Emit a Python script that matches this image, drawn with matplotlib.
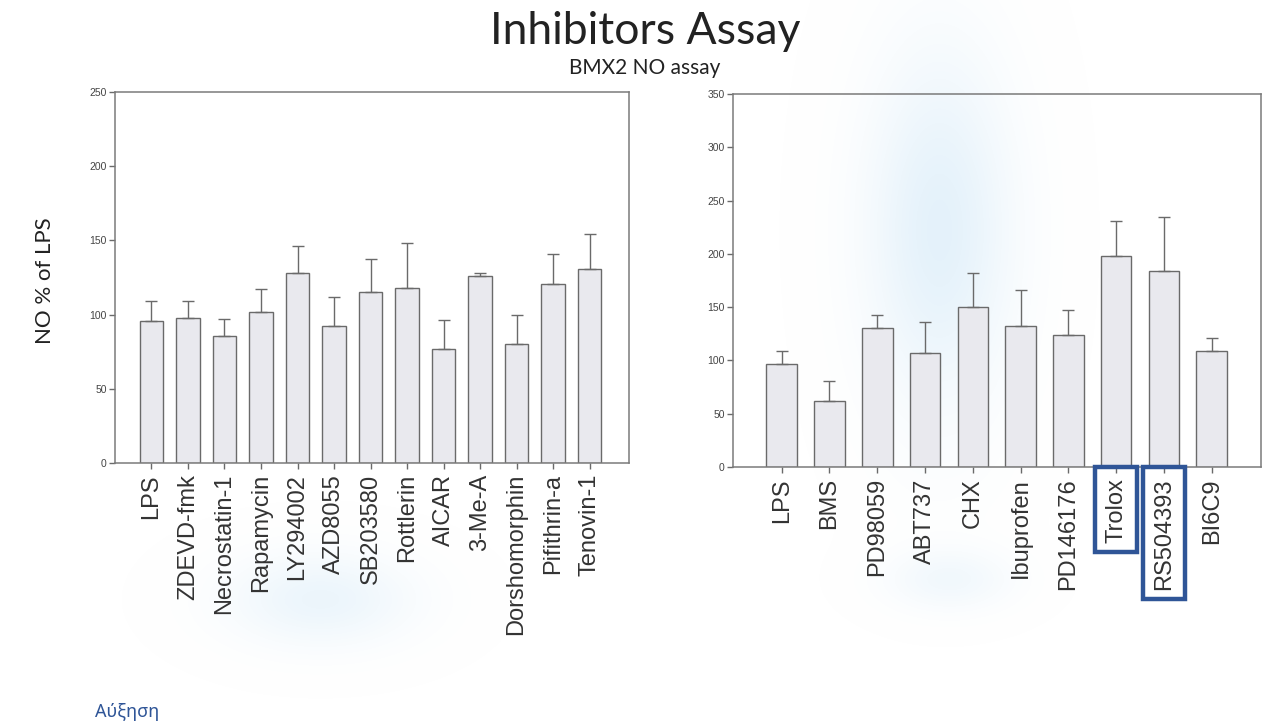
import numpy as np
import matplotlib
matplotlib.use('Agg')
import matplotlib.pyplot as plt
from matplotlib.patches import Rectangle

# NO production, % of LPS control
left_labels = ['LPS', 'ZDEVD-fmk', 'Necrostatin-1', 'Rapamycin', 'LY294002', 'AZD8055',
               'SB203580', 'Rottlerin', 'AICAR', '3-Me-A', 'Dorshomorphin', 'Pifithrin-a', 'Tenovin-1']
left_means = [96, 97.5, 85.5, 102, 128, 92, 115, 118, 77, 126, 80.5, 120.5, 131]
left_err = [13, 11.5, 11.5, 15, 18.5, 20, 22.5, 30.5, 19.5, 2, 19, 20.5, 23]
left_yticks = [0, 50, 100, 150, 200, 250]

right_labels = ['LPS', 'BMS', 'PD98059', 'ABT737', 'CHX', 'Ibuprofen', 'PD146176',
                'Trolox', 'RS504393', 'BI6C9']
right_means = [96.5, 62, 130, 107, 150, 132, 124, 198, 184, 109]
right_err = [12.5, 18.5, 13, 29, 32.5, 34, 23, 33, 50.5, 12.5]
right_yticks = [0, 50, 100, 150, 200, 250, 300, 350]

highlighted = ['Trolox', 'RS504393']

bar_fc = '#e9e9ee'
line_c = '#6a6a6a'
box_c = '#2f5597'

fig = plt.figure(figsize=(12.62, 7.26), dpi=100)
fig.patch.set_facecolor('white')

# faint bluish wash behind the panels (scanned slide)
bg = fig.add_axes([0, 0, 1, 1], zorder=-10)
gx, gy = np.meshgrid(np.linspace(0, 1262, 632), np.linspace(0, 726, 364))
wash = (np.exp(-((gx - 940) / 70) ** 2 - ((gy - 230) / 170) ** 2)
        + 0.7 * np.exp(-((gx - 320) / 90) ** 2 - ((gy - 600) / 45) ** 2)
        + 0.5 * np.exp(-((gx - 950) / 60) ** 2 - ((gy - 580) / 30) ** 2))
wash = np.clip(wash, 0, 1)
rgba = np.ones(wash.shape + (4,))
rgba[..., 0] = 0.86
rgba[..., 1] = 0.93
rgba[..., 2] = 0.98
rgba[..., 3] = 0.75 * wash
bg.imshow(rgba, extent=(0, 1262, 726, 0), aspect='auto', interpolation='bilinear')
bg.set_xlim(0, 1262)
bg.set_ylim(726, 0)
bg.axis('off')


def bar_panel(rect, labels, means, err, yticks, xpad):
    ax = fig.add_axes(rect)
    ax.patch.set_alpha(0)
    x = np.arange(len(labels))
    ax.bar(x, means, width=0.64, color=bar_fc, edgecolor=line_c, linewidth=1.0, zorder=2)
    ax.errorbar(x, means, yerr=[np.zeros(len(err)), err], fmt='none', ecolor=line_c,
                elinewidth=1.0, capsize=4, capthick=1.0, zorder=3)
    ax.set_xlim(-xpad[0], len(labels) - 1 + xpad[1])
    ax.set_ylim(0, yticks[-1])
    ax.set_yticks(yticks)
    ax.set_xticks(x)
    ax.set_xticklabels(labels, rotation=90, fontsize=17, family='Liberation Sans', color='#333333')
    for lab in ax.get_yticklabels():
        lab.set_fontfamily('Liberation Sans')
    ax.tick_params(axis='y', labelsize=7.5, labelcolor='#444444', color=line_c, length=4,
                   width=1.0, direction='out', pad=2)
    ax.tick_params(axis='x', color=line_c, length=4, width=1.0, direction='out', pad=4)
    for s in ax.spines.values():
        s.set_color('#7a7a7a')
        s.set_linewidth(1.1)
    return ax


ax1 = bar_panel([0.0911, 0.3623, 0.4073, 0.511], left_labels, left_means, left_err,
                left_yticks, (1.0, 1.08))
ax2 = bar_panel([0.5808, 0.3567, 0.4184, 0.5138], right_labels, right_means, right_err,
                right_yticks, (1.02, 1.03))

fig.text(0.511, 0.957, 'Inhibitors Assay', ha='center', va='center', fontsize=32,
         family='Lato', color='#222222')
fig.text(0.511, 0.906, 'BMX2 NO assay', ha='center', va='center', fontsize=15,
         family='Lato', color='#222222')
fig.text(0.036, 0.614, 'NO % of LPS', ha='center', va='center', rotation=90, fontsize=16,
         family='Lato', color='#222222')
fig.text(0.075, 0.019, 'Αύξηση', ha='left', va='center', fontsize=13,
         family='Noto Sans', color=box_c)

# boxes round the highlighted labels on the right panel
fig.canvas.draw()
renderer = fig.canvas.get_renderer()
inv = fig.transFigure.inverted()
ax_bottom = ax2.get_window_extent(renderer).y0
for lab in ax2.get_xticklabels():
    if lab.get_text() not in highlighted:
        continue
    bb = lab.get_window_extent(renderer)
    x0, y0 = inv.transform((bb.x0 - 10, bb.y0 - 9))
    x1, y1 = inv.transform((bb.x1 + 10, ax_bottom))
    fig.add_artist(Rectangle((x0, y0), x1 - x0, y1 - y0, transform=fig.transFigure,
                             fill=False, edgecolor=box_c, linewidth=3.2, zorder=5))

fig.savefig('out.png', dpi=100)
